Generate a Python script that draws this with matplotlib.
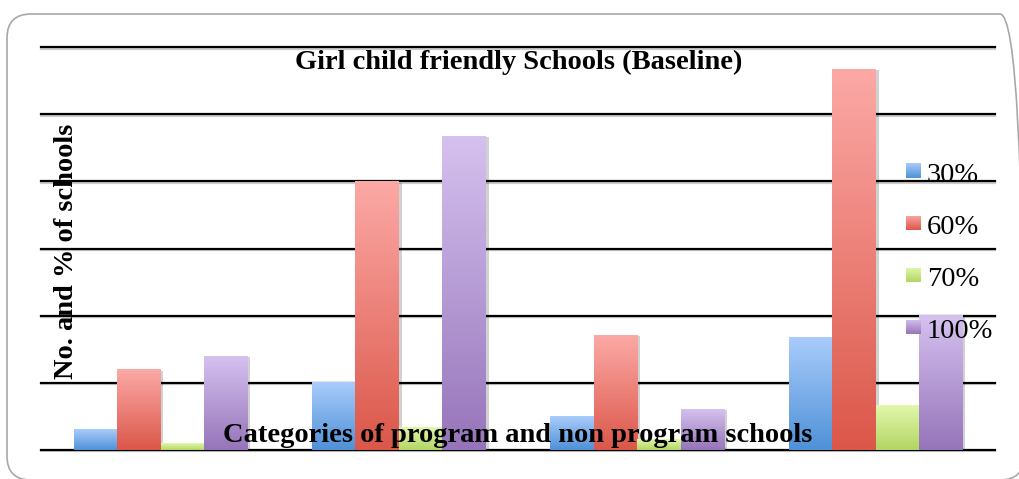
import numpy as np
import matplotlib.pyplot as plt
import matplotlib.patheffects as pe
from matplotlib.colors import LinearSegmentedColormap
from matplotlib.patches import FancyBboxPatch
from matplotlib.transforms import IdentityTransform

# four groups of schools, no category names shown on the axis
groups = np.arange(4)
series = ['30%', '60%', '70%', '100%']
vals_30 = [3.1, 10.1, 5.0, 16.7]
vals_60 = [12.0, 40.0, 17.1, 56.8]
vals_70 = [1.0, 3.4, 1.5, 6.7]
vals_100 = [14.0, 46.8, 6.1, 20.1]
values = [vals_30, vals_60, vals_70, vals_100]

# (top, bottom) colours of each gradient fill
shades = [('#a9ccfb', '#4f91d7'),
          ('#fca9a6', '#db5749'),
          ('#e2f8ab', '#b3d564'),
          ('#d5c1ef', '#9674b9')]

W, H = 1020, 479
font = 'Liberation Serif'
fsize = 20.5

fig = plt.figure(figsize=(W / 100, H / 100), dpi=100)

# rounded frame round the chart, running off the right and bottom edges
frame = FancyBboxPatch((7, -1), 1017, 466, boxstyle='round,pad=0,rounding_size=24',
                       transform=IdentityTransform(), fill=False, ec='#a8a8a8', lw=1.2)
fig.patches.append(frame)

left, right, top, bottom = 41.3, 995, 47.3, 449.7
ax = fig.add_axes([left / W, 1 - bottom / H, (right - left) / W, (bottom - top) / H])
for s in ax.spines.values():
    s.set_visible(False)
ax.tick_params(left=False, bottom=False, labelleft=False, labelbottom=False)

for yv in range(0, 61, 10):
    ax.axhline(yv, color='black', lw=1.6, zorder=0.5, clip_on=False,
               path_effects=[pe.SimpleLineShadow(offset=(0, -1), alpha=0.2), pe.Normal()])

width = 0.729 / 4
grad = np.linspace(0, 1, 256).reshape(-1, 1)
for i, (vals, (c_top, c_bot)) in enumerate(zip(values, shades)):
    cmap = LinearSegmentedColormap.from_list('g%d' % i, [c_bot, c_top])
    bars = ax.bar(groups + (i - 1.5) * width, vals, width, color=c_bot, zorder=2,
                  path_effects=[pe.SimplePatchShadow(offset=(2, -1), shadow_rgbFace='k', alpha=0.18),
                                pe.Normal()])
    for rect in bars:
        x0 = rect.get_x()
        ax.imshow(grad, extent=[x0, x0 + width, 0, rect.get_height()], origin='lower',
                  cmap=cmap, aspect='auto', zorder=2.1, interpolation='bilinear')

ax.set_xlim(-0.5, 3.5)
ax.set_ylim(0, 60)

# legend with small gradient squares
base_y = [181.7, 234.0, 286.3, 338.5]
for i, (name, (c_top, c_bot)) in enumerate(zip(series, shades)):
    sq = fig.add_axes([906 / W, 1 - (base_y[i] - 4) / H, 15 / W, 14.5 / H])
    sq.imshow(grad, origin='lower', aspect='auto', interpolation='bilinear',
              cmap=LinearSegmentedColormap.from_list('l%d' % i, [c_bot, c_top]))
    sq.axis('off')
    fig.text(927 / W, 1 - base_y[i] / H, name, family=font, size=fsize, va='baseline', ha='left',
             zorder=5)

fig.text(519 / W, 1 - 69 / H, 'Girl child friendly Schools (Baseline)', family=font,
         weight='bold', size=fsize, ha='center', va='baseline', zorder=5)
fig.text(517.5 / W, 1 - 442 / H, 'Categories of program and non program schools', family=font,
         weight='bold', size=fsize, ha='center', va='baseline', zorder=5)
fig.text(73 / W, 1 - 251.5 / H, 'No. and % of schools', family=font, weight='bold', size=fsize,
         rotation=90, rotation_mode='anchor', ha='center', va='baseline', zorder=5)

fig.savefig('out.png', dpi=100)
